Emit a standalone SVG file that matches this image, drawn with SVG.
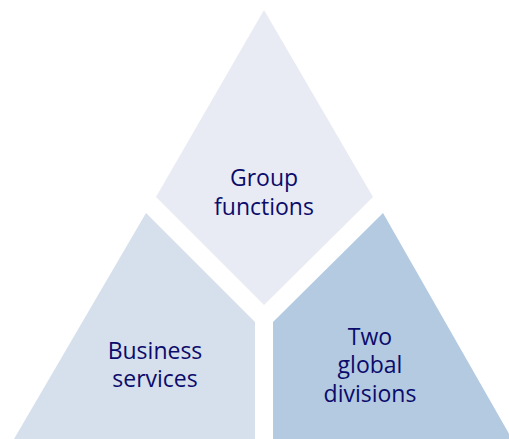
<svg xmlns="http://www.w3.org/2000/svg" width="509" height="439" viewBox="0 0 509 439">
<style>
.lbl{font-family:"Open Sans","Noto Sans","Liberation Sans",sans-serif;font-size:23px;fill:#0b0b6b;text-anchor:middle}
</style>
<rect width="509" height="439" fill="#ffffff"/>
<g id="group-functions">
<polygon points="264,10 373,197 264,305 156,197" fill="#e8ebf3"/>
<text class="lbl" x="264" y="186">Group</text>
<text class="lbl" x="264" y="215">functions</text>
</g>
<g id="business-services">
<polygon points="146,213 255,322 255,439 14,439" fill="#d6e0ec"/>
<text class="lbl" x="155" y="359">Business</text>
<text class="lbl" x="155" y="387">services</text>
</g>
<g id="two-global-divisions">
<polygon points="383,213 512,439 273,439 273,322" fill="#b3cae1"/>
<text class="lbl" x="370" y="345">Two</text>
<text class="lbl" x="370" y="373">global</text>
<text class="lbl" x="370" y="402">divisions</text>
</g>
<g id="connectors"></g>
</svg>
